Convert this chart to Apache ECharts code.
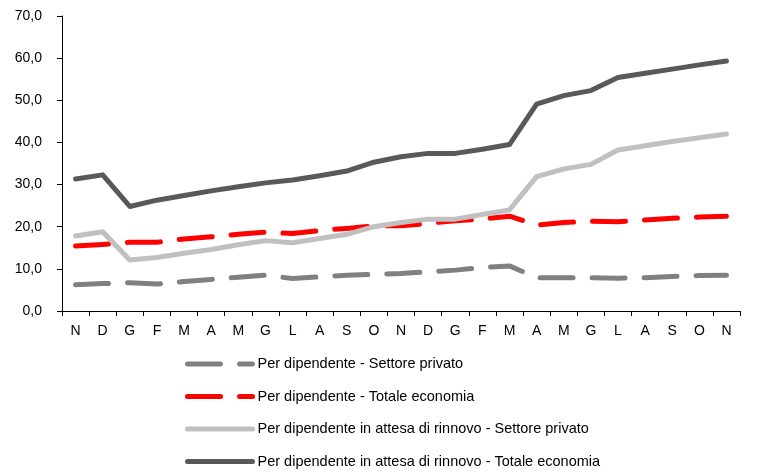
<!DOCTYPE html>
<html><head><meta charset="utf-8">
<script src="https://cdn.jsdelivr.net/npm/echarts@6/dist/echarts.min.js"></script>
<style>html,body{margin:0;padding:0;background:#fff}#c{width:759px;height:472px}</style>
</head><body><div id="c"></div>
<script>
const categories = ['N','D','G','F','M','A','M','G','L','A','S','O','N','D','G','F','M','A','M','G','L','A','S','O','N'];
const privato = [6.2,6.5,6.7,6.4,7.0,7.5,8.0,8.5,7.7,8.1,8.5,8.7,8.9,9.3,9.7,10.3,10.7,7.9,7.9,7.9,7.8,7.9,8.2,8.4,8.5];
const totale = [15.4,15.8,16.3,16.3,17.1,17.6,18.2,18.7,18.4,19.1,19.6,20.2,20.2,20.8,21.4,21.8,22.5,20.4,21.0,21.3,21.2,21.6,22.0,22.3,22.5];
const attesaPrivato = [17.8,18.8,12.1,12.7,13.7,14.6,15.7,16.7,16.2,17.2,18.2,20.0,21.0,21.8,21.8,22.9,24.0,31.9,33.7,34.8,38.2,39.2,40.2,41.1,42.0];
const attesaTotale = [31.3,32.3,24.8,26.3,27.4,28.5,29.5,30.4,31.1,32.1,33.2,35.3,36.6,37.4,37.4,38.4,39.5,49.1,51.1,52.3,55.4,56.4,57.4,58.4,59.3];
const names = ['Per dipendente - Settore privato','Per dipendente - Totale economia','Per dipendente in attesa di rinnovo - Settore privato','Per dipendente in attesa di rinnovo - Totale economia'];

const font = 'Liberation Sans, Arial, sans-serif';
const chart = echarts.init(document.getElementById('c'));
function mk(name, data, color, dashed) {
  return {
    name, type: 'line', data, symbol: 'none', smooth: false, animation: false,
    lineStyle: { color, width: 5, type: dashed ? [33, 19] : 'solid', cap: 'round', join: 'round' },
    itemStyle: { color }
  };
}
chart.setOption({
  animation: false,
  textStyle: { fontFamily: font },
  grid: { left: 62, right: 19, top: 16, bottom: 161, containLabel: false },
  legend: {
    orient: 'vertical', left: 180, top: 354, padding: [1, 5, 0, 5], height: 118,
    itemWidth: 65, itemHeight: 6, itemGap: 14.5,
    itemStyle: { opacity: 0 },
    lineStyle: { width: 5, cap: 'round' },
    textStyle: { fontFamily: font, fontSize: 14.5, lineHeight: 18, color: '#000' },
    data: names
  },
  xAxis: {
    type: 'category', data: categories, boundaryGap: true,
    axisLine: { lineStyle: { color: '#000', width: 1 } },
    axisTick: { show: true, length: 5, inside: false, lineStyle: { color: '#000' } },
    axisLabel: { color: '#000', fontSize: 14, fontFamily: font, margin: 13, interval: 0 }
  },
  yAxis: {
    type: 'value', min: 0, max: 70, interval: 10,
    axisLine: { show: true, lineStyle: { color: '#000', width: 1 } },
    axisTick: { show: true, length: 5, lineStyle: { color: '#000' } },
    splitLine: { show: false },
    axisLabel: { color: '#000', fontSize: 14, fontFamily: font, margin: 20, formatter: v => v.toFixed(1).replace('.', ',') }
  },
  series: [
    mk(names[0], privato, '#808080', true),
    mk(names[1], totale, '#ff0000', true),
    mk(names[2], attesaPrivato, '#c0c0c0', false),
    mk(names[3], attesaTotale, '#595959', false)
  ]
});
</script></body></html>
